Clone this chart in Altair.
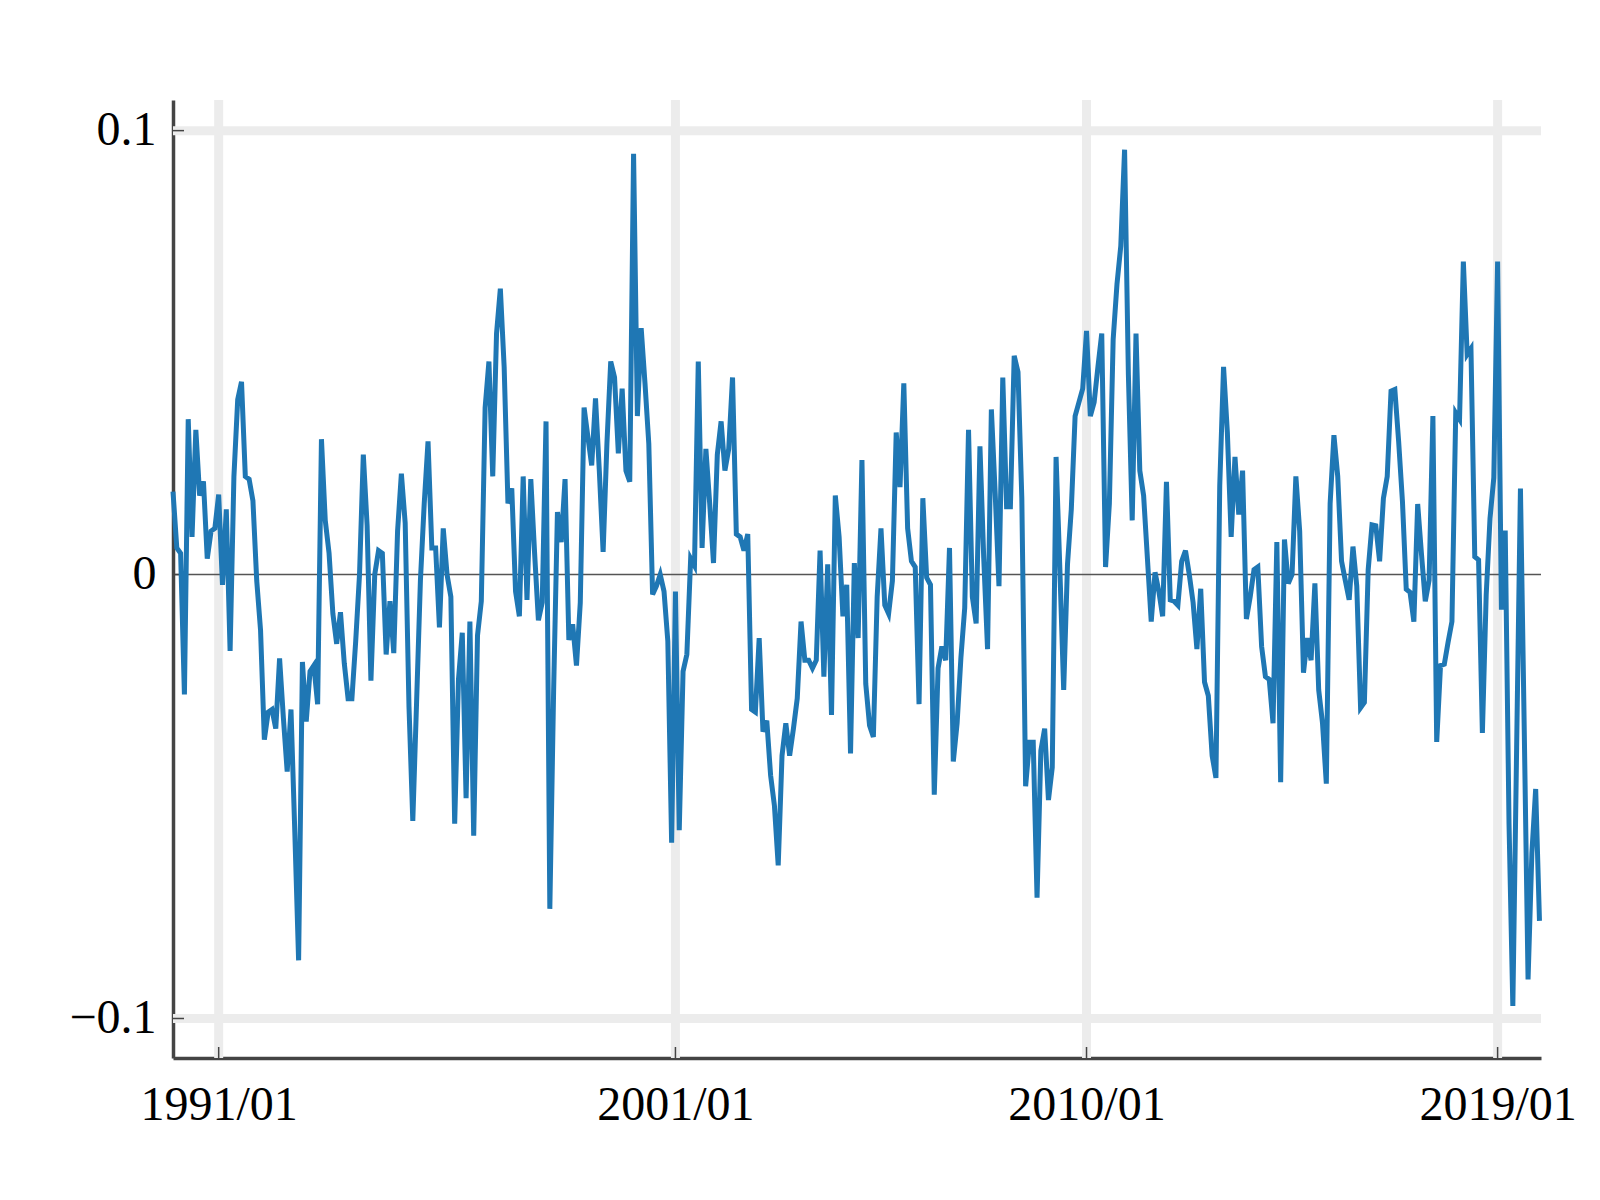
import altair as alt
import pandas as pd

# monthly values, 1990/01 .. 2019/12 (index 0..359)
values = [
    0.0187, 0.006, 0.0048, -0.027, 0.035, 0.0085, 0.0326, 0.0178, 0.021, 0.0036, 0.0098, 0.0104,
    0.018, -0.0023, 0.0147, -0.0172, 0.022, 0.0394, 0.0434, 0.0221, 0.0215, 0.0166, -0.0014, -0.0125,
    -0.0372, -0.031, -0.0304, -0.0347, -0.0189, -0.0323, -0.0444, -0.0304, -0.058, -0.0869, -0.0197, -0.0331,
    -0.0218, -0.0205, -0.0292, 0.0305, 0.0122, 0.0048, -0.0088, -0.0156, -0.0085, -0.020, -0.028, -0.028,
    -0.015, 0.0, 0.027, 0.011, -0.0239, 0.0, 0.0054, 0.0048, -0.018, -0.006, -0.0177, 0.0098,
    0.0227, 0.0116, -0.0298, -0.0555, -0.0286, -0.0014, 0.016, 0.030, 0.006, 0.006, -0.0119, 0.0104,
    0.0, -0.005, -0.0561, -0.0236, -0.0131, -0.0504, -0.0106, -0.0588, -0.0137, -0.006, 0.0376, 0.048,
    0.0221, 0.0543, 0.0644, 0.0468, 0.016, 0.0194, -0.0038, -0.0094, 0.0221, -0.0057, 0.0215, 0.0048,
    -0.0103, -0.0063, 0.0345, -0.0753, -0.026, 0.0141, 0.0073, 0.0215, -0.0147, -0.0112, -0.0205, -0.0063,
    0.0376, 0.031, 0.0246, 0.0397, 0.0234, 0.0051, 0.0295, 0.048, 0.0444, 0.0273, 0.0419, 0.0234,
    0.0209, 0.0948, 0.0357, 0.0555, 0.0431, 0.0295, -0.0045, -0.0026, 0.0, -0.0038, -0.015, -0.0604,
    -0.0038, -0.0576, -0.0218, -0.018, 0.0036, 0.002, 0.048, 0.006, 0.0283, 0.016, 0.0026, 0.027,
    0.0345, 0.0234, 0.0283, 0.0444, 0.0091, 0.0085, 0.0054, 0.0091, -0.0304, -0.031, -0.0143, -0.0354,
    -0.0329, -0.0452, -0.052, -0.0655, -0.0408, -0.0335, -0.0408, -0.0347, -0.0279, -0.0106, -0.0193, -0.0193,
    -0.0211, -0.0193, 0.0054, -0.023, 0.0023, -0.0316, 0.0178, 0.0085, -0.0094, -0.0023, -0.0403, 0.0026,
    -0.0143, 0.0258, -0.0246, -0.034, -0.0366, -0.005, 0.0104, -0.0069, -0.0088, -0.0014, 0.032, 0.0197,
    0.0431, 0.0104, 0.003, 0.0017, -0.0292, 0.0172, -0.0007, -0.0023, -0.0496, -0.0211, -0.0162, -0.0193,
    0.006, -0.0421, -0.0335, -0.0187, -0.0075, 0.0326, -0.005, -0.011, 0.0289, 0.0036, -0.0168, 0.0372,
    0.0184, -0.0026, 0.0444, 0.0153, 0.0153, 0.0493, 0.0456, 0.0172, -0.0477, -0.0378, -0.0378, -0.0728,
    -0.0397, -0.0347, -0.0508, -0.0434, 0.0265, 0.0011, -0.026, 0.0023, 0.0147, 0.0357, 0.0388, 0.0419,
    0.0549, 0.0357, 0.0388, 0.0468, 0.0543, 0.0017, 0.016, 0.053, 0.0654, 0.074, 0.0957, 0.045,
    0.0122, 0.0543, 0.0234, 0.0178, 0.0036, -0.0106, 0.0005, -0.0038, -0.0094, 0.0209, -0.0057, -0.006,
    -0.0069, 0.003, 0.0054, 0.0, -0.0063, -0.0168, -0.0032, -0.0242, -0.0273, -0.0408, -0.0458, 0.02,
    0.0468, 0.032, 0.0085, 0.0265, 0.0135, 0.0234, -0.01, -0.005, 0.0011, 0.0017, -0.0162, -0.023,
    -0.0236, -0.0335, 0.0073, -0.0468, 0.0079, -0.002, 0.0, 0.0221, 0.0098, -0.0221, -0.0143, -0.0193,
    -0.002, -0.026, -0.0335, -0.0471, 0.016, 0.0314, 0.0221, 0.003, -0.0014, -0.0057, 0.0063, -0.0026,
    -0.03, -0.0288, 0.0011, 0.0112, 0.011, 0.003, 0.0172, 0.0221, 0.0413, 0.0417, 0.03, 0.0165,
    -0.0033, -0.004, -0.0106, 0.0159, 0.0046, -0.006, -0.0013, 0.0357, -0.0377, -0.0205, -0.0202, -0.0152,
    -0.0106, 0.0364, 0.035, 0.0705, 0.0496, 0.0509, 0.004, 0.0033, -0.0357, -0.0046, 0.0126, 0.0218,
    0.0705, -0.0079, 0.0099, -0.0562, -0.0972, -0.039, 0.0194, -0.035, -0.0912, -0.0628, -0.0483, -0.078,
]
months = list(range(len(values)))

x_tick_values = [12, 132, 240, 348]
x_tick_labels = ["1991/01", "2001/01", "2010/01", "2019/01"]
y_tick_values = [0.1, 0.0, -0.1]
y_tick_labels = ["0.1", "0", "\u22120.1"]
y_grid_values = [0.1, -0.1]

W, H = 1368, 958

def label_expr(vals, labels):
    expr = "''"
    for v, l in reversed(list(zip(vals, labels))):
        expr = f"abs(datum.value - ({v})) < 1e-9 ? '{l}' : ({expr})"
    return expr

xscale = alt.Scale(domain=[0, 359.4], nice=False, zero=False)
yscale = alt.Scale(domain=[-0.1089, 0.1069], nice=False, zero=False)

FONT = "Liberation Serif"
AX_COLOR = "#444444"

xaxis = alt.Axis(values=x_tick_values, labelExpr=label_expr(x_tick_values, x_tick_labels),
                 title=None, grid=False, ticks=False, domainColor=AX_COLOR, domainWidth=3.5,
                 labelFont=FONT, labelFontSize=48, labelColor="#000000", labelPadding=23,
                 labelFlush=False, labelOverlap=False)
yaxis = alt.Axis(values=y_tick_values, labelExpr=label_expr(y_tick_values, y_tick_labels),
                 title=None, grid=False, ticks=False, domainColor=AX_COLOR, domainWidth=3.5,
                 labelFont=FONT, labelFontSize=48, labelColor="#000000", labelPadding=17,
                 labelFlush=False, labelOverlap=False)

X = lambda: alt.X("m:Q", scale=xscale, axis=xaxis)
Y = lambda: alt.Y("v:Q", scale=yscale, axis=yaxis)

df = pd.DataFrame({"m": months, "v": values})
gx = pd.DataFrame({"m": x_tick_values})
gy = pd.DataFrame({"v": y_grid_values})
zero = pd.DataFrame({"v": [0.0]})
yt = pd.DataFrame({"v": y_tick_values})

grid_x = alt.Chart(gx).mark_rule(color="#ececec", strokeWidth=9).encode(x=X())
grid_y = alt.Chart(gy).mark_rule(color="#ececec", strokeWidth=9).encode(y=Y())
zero_line = alt.Chart(zero).mark_rule(color="#555555", strokeWidth=1.5).encode(y=Y())
x_ticks = alt.Chart(gx).mark_rule(color=AX_COLOR, strokeWidth=1.5).encode(
    x=X(), y=alt.value(H), y2=alt.value(H - 11))
y_ticks = alt.Chart(yt).mark_rule(color=AX_COLOR, strokeWidth=1.5).encode(
    y=Y(), x=alt.value(0), x2=alt.value(11))
line = alt.Chart(df).mark_line(color="#1f77b4", strokeWidth=5, strokeJoin="miter").encode(x=X(), y=Y())

chart = alt.layer(grid_x, grid_y, zero_line, x_ticks, y_ticks, line).properties(
    width=W, height=H,
    background="white",
    autosize=alt.AutoSizeParams(type="none"),
    padding={"left": 165, "top": 92, "right": 50, "bottom": 110},
).configure_view(stroke="transparent", strokeWidth=0)

chart.save("out.html", embed_options={"renderer": "svg", "actions": False})
